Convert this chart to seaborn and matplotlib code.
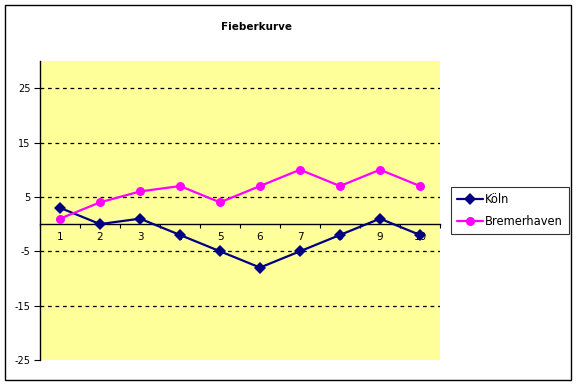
import matplotlib
matplotlib.use("Agg")
import matplotlib.pyplot as plt
import seaborn as sns
import pandas as pd
from matplotlib.patches import Rectangle

categories = [1, 2, 3, 4, 5, 6, 7, 8, 9, 10]
koeln = [3, 0, 1, -2, -5, -8, -5, -2, 1, -2]
bremerhaven = [1, 4, 6, 7, 4, 7, 10, 7, 10, 7]
yticks = [-25, -15, -5, 5, 15, 25]

df = pd.DataFrame({
    "Tag": categories * 2,
    "Wert": koeln + bremerhaven,
    "Stadt": ["Köln"] * len(categories) + ["Bremerhaven"] * len(categories),
})

sns.set_style("white")
plt.rcParams['font.family'] = ['DejaVu Sans']
plt.rcParams['text.color'] = 'black'
plt.rcParams['xtick.color'] = 'black'
plt.rcParams['ytick.color'] = 'black'

fig = plt.figure(figsize=(5.77, 3.85), dpi=100)
ax = fig.add_axes([40/577, 25/385, 400/577, 299/385])
ax.set_facecolor("#FFFF99")

sns.lineplot(data=df, x="Tag", y="Wert", hue="Stadt", style="Stadt",
             palette={"Köln": "#000080", "Bremerhaven": "#FF00FF"},
             markers={"Köln": "D", "Bremerhaven": "o"}, dashes=False,
             markersize=6.5, linewidth=1.6, markeredgewidth=0, ax=ax, zorder=5)

ax.set_xlim(0.5, 10.5)
ax.set_ylim(-25, 30)
for v in yticks[1:]:
    ax.axhline(v, color="black", linestyle=(0, (3, 3)), linewidth=0.9, zorder=1)

ax.set_yticks(yticks)
ax.set_yticklabels([str(v) for v in yticks], fontsize=7)
ax.tick_params(axis="y", direction="out", length=4, width=0.8, left=True, pad=3)

ax.spines["bottom"].set_position(("data", 0))
for s in ["top", "right"]:
    ax.spines[s].set_visible(False)
for s in ["left", "bottom"]:
    ax.spines[s].set_color("black")
    ax.spines[s].set_linewidth(1.0)

ax.set_xticks(categories)
ax.set_xticklabels([str(c) for c in categories], fontsize=7.5)
ax.set_xticks([c + 0.5 for c in [0] + categories], minor=True)
ax.tick_params(axis="x", which="major", length=0, pad=6, bottom=True)
ax.tick_params(axis="x", which="minor", direction="out", length=3, width=0.8, bottom=True)

ax.set_xlabel("")
ax.set_ylabel("")

handles, labels = ax.get_legend_handles_labels()
leg = ax.legend(handles, labels, loc="upper left",
                bbox_to_anchor=(451/577, 1 - 232/385, 118/577, 45/385),
                bbox_transform=fig.transFigure, mode="expand",
                frameon=True, fancybox=False, fontsize=8.3,
                handlelength=2.2, handletextpad=0.2, borderpad=0.55,
                labelspacing=0.75, borderaxespad=0)
leg.get_frame().set_edgecolor("black")
leg.get_frame().set_linewidth(0.8)

fig.text(257/577, 1 - 27/385, "Fieberkurve", ha="center", va="center",
         fontsize=7.5, fontweight="bold")

fig.patches.append(Rectangle((5/577, 5/385), 566/577, 375/385,
                             transform=fig.transFigure, fill=False,
                             edgecolor="black", linewidth=1.0))

fig.savefig("out.png", dpi=100)
